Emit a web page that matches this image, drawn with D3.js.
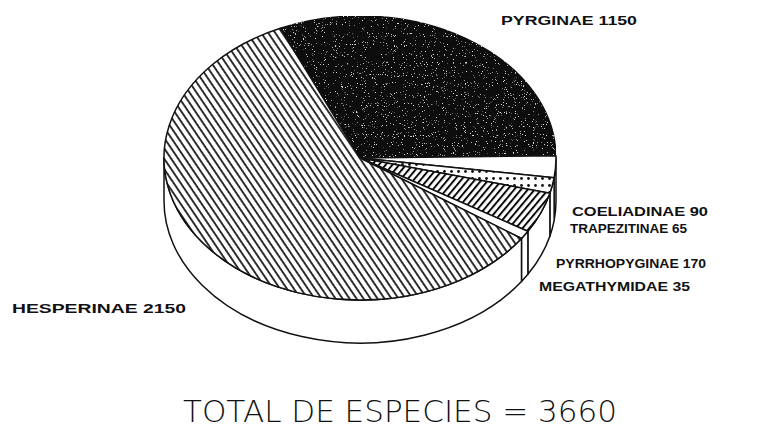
<!DOCTYPE html>
<html>
<head>
<meta charset="utf-8">
<script src="https://cdn.jsdelivr.net/npm/d3@7"></script>
<style>
  html, body { margin: 0; padding: 0; background: #fff; }
  svg { display: block; }
  .lbl { font-family: "Liberation Sans", Arial, sans-serif; font-weight: bold; font-size: 13.5px; fill: #111; }
  .total { font-family: "DejaVu Sans", sans-serif; font-weight: 200; font-size: 30px; fill: #111; }
</style>
</head>
<body>
<div id="chart"></div>
<script>
// data
const families = ['PYRGINAE', 'COELIADINAE', 'TRAPEZITINAE', 'PYRRHOPYGINAE', 'MEGATHYMIDAE', 'HESPERINAE'];
const species = [1150, 90, 65, 170, 35, 2150];
const totalLabel = 'TOTAL DE ESPECIES = 3660';

// styling per family
const fillOf = {
  PYRGINAE: 'url(#dark)',
  COELIADINAE: '#fff',
  TRAPEZITINAE: 'url(#dots)',
  PYRRHOPYGINAE: 'url(#slash)',
  MEGATHYMIDAE: '#fff',
  HESPERINAE: 'url(#back)',
};

// label layout [x, baseline, width]
const labelPos = {
  PYRGINAE: [501, 25, 136],
  COELIADINAE: [572, 216, 136],
  TRAPEZITINAE: [570, 233, 117],
  PYRRHOPYGINAE: [556, 268, 150],
  MEGATHYMIDAE: [539, 291, 151],
  HESPERINAE: [12, 313, 174],
};

const width = 766, height = 445;
const cx = 360, cy = 158, rx = 196, ry = 142, depth = 43;
const startDeg = -24;

const svg = d3.select('#chart').append('svg')
  .attr('width', width).attr('height', height)
  .attr('viewBox', `0 0 ${width} ${height}`);

const defs = svg.append('defs');

// dark stipple: black fill with sparse light specks
const f = defs.append('filter').attr('id', 'speck').attr('x', 0).attr('y', 0).attr('width', 1).attr('height', 1);
f.append('feTurbulence').attr('type', 'fractalNoise').attr('baseFrequency', 0.9).attr('numOctaves', 2).attr('seed', 7).attr('result', 'noise');
f.append('feColorMatrix').attr('in', 'noise').attr('type', 'matrix')
  .attr('values', '0 0 0 0 0.75  0 0 0 0 0.75  0 0 0 0 0.75  10 0 0 0 -6.7').attr('result', 'sp');
f.append('feComposite').attr('in', 'sp').attr('in2', 'SourceGraphic').attr('operator', 'in').attr('result', 'clip');
const fm = f.append('feMerge');
fm.append('feMergeNode').attr('in', 'SourceGraphic');
fm.append('feMergeNode').attr('in', 'clip');

defs.append('pattern').attr('id', 'dark').attr('patternUnits', 'userSpaceOnUse')
  .attr('width', 4).attr('height', 4)
  .append('rect').attr('width', 4).attr('height', 4).attr('fill', '#0a0a0a');

const back = defs.append('pattern').attr('id', 'back').attr('patternUnits', 'userSpaceOnUse')
  .attr('width', 5.8).attr('height', 10).attr('patternTransform', 'rotate(-34)');
back.append('rect').attr('width', 5.8).attr('height', 10).attr('fill', '#fff');
back.append('line').attr('x1', 1).attr('x2', 1).attr('y1', 0).attr('y2', 10).attr('stroke', '#000').attr('stroke-width', 1.6);

const slash = defs.append('pattern').attr('id', 'slash').attr('patternUnits', 'userSpaceOnUse')
  .attr('width', 5.2).attr('height', 10).attr('patternTransform', 'rotate(40)');
slash.append('rect').attr('width', 5.2).attr('height', 10).attr('fill', '#fff');
slash.append('line').attr('x1', 1).attr('x2', 1).attr('y1', 0).attr('y2', 10).attr('stroke', '#000').attr('stroke-width', 1.9);

const dots = defs.append('pattern').attr('id', 'dots').attr('patternUnits', 'userSpaceOnUse')
  .attr('width', 7).attr('height', 7);
dots.append('rect').attr('width', 7).attr('height', 7).attr('fill', '#fff');
dots.append('circle').attr('cx', 3.5).attr('cy', 3.5).attr('r', 1.4).attr('fill', '#111');

// pie layout
const pie = d3.pie().sort(null)
  .startAngle(startDeg * Math.PI / 180)
  .endAngle(startDeg * Math.PI / 180 + 2 * Math.PI);
const arcs = pie(species).map((d, i) => ({ ...d, name: families[i] }));

const px = (a) => cx + rx * Math.sin(a);
const py = (a) => cy - ry * Math.cos(a);

function topPath(d) {
  const large = d.endAngle - d.startAngle > Math.PI ? 1 : 0;
  return `M${cx},${cy}L${px(d.startAngle)},${py(d.startAngle)}` +
    `A${rx},${ry} 0 ${large} 1 ${px(d.endAngle)},${py(d.endAngle)}Z`;
}

// front side: angles where cos(a) < 0, i.e. (pi/2, 3pi/2) + k*2pi
function sidePaths(d) {
  const out = [];
  for (let k = -1; k <= 1; k++) {
    const lo = Math.PI / 2 + k * 2 * Math.PI, hi = 3 * Math.PI / 2 + k * 2 * Math.PI;
    const s = Math.max(d.startAngle, lo), e = Math.min(d.endAngle, hi);
    if (e > s) {
      const large = e - s > Math.PI ? 1 : 0;
      out.push(`M${px(s)},${py(s)}L${px(s)},${py(s) + depth}` +
        `A${rx},${ry} 0 ${large} 1 ${px(e)},${py(e) + depth}` +
        `L${px(e)},${py(e)}A${rx},${ry} 0 ${large} 0 ${px(s)},${py(s)}Z`);
    }
  }
  return out;
}

svg.append('g').attr('class', 'sides')
  .selectAll('path')
  .data(arcs.flatMap(d => sidePaths(d)))
  .join('path')
  .attr('d', d => d)
  .attr('fill', '#fff')
  .attr('stroke', '#111')
  .attr('stroke-width', 1.5)
  .attr('stroke-linejoin', 'round');

svg.append('g').attr('class', 'tops')
  .selectAll('path')
  .data(arcs)
  .join('path')
  .attr('d', topPath)
  .attr('fill', d => fillOf[d.name])
  .attr('filter', d => d.name === 'PYRGINAE' ? 'url(#speck)' : null)
  .attr('stroke', '#111')
  .attr('stroke-width', 1.5)
  .attr('stroke-linejoin', 'round');

svg.append('g').attr('class', 'labels')
  .selectAll('text')
  .data(arcs)
  .join('text')
  .attr('class', 'lbl')
  .attr('x', d => labelPos[d.name][0])
  .attr('y', d => labelPos[d.name][1])
  .attr('textLength', d => labelPos[d.name][2])
  .attr('lengthAdjust', 'spacingAndGlyphs')
  .text(d => `${d.name} ${d.value}`);

svg.append('text')
  .attr('class', 'total')
  .attr('x', 183).attr('y', 422)
  .attr('textLength', 434)
  .attr('lengthAdjust', 'spacingAndGlyphs')
  .text(totalLabel);
</script>
</body>
</html>
